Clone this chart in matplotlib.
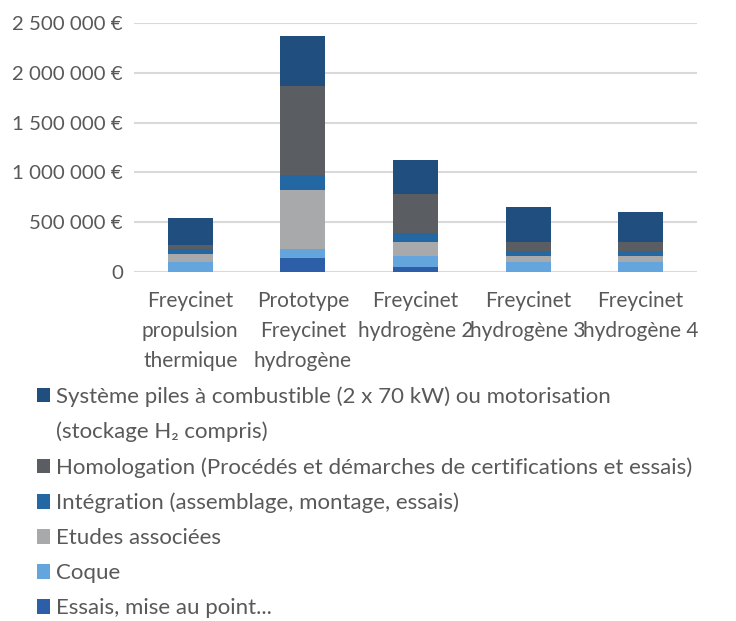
import matplotlib
matplotlib.use("Agg")
import matplotlib.pyplot as plt
from matplotlib.patches import Patch
import numpy as np

plt.rcParams['font.family'] = ['Lato', 'DejaVu Sans']

categories = ["Freycinet\npropulsion\nthermique",
              "Prototype\nFreycinet\nhydrogène",
              "Freycinet\nhydrogène 2",
              "Freycinet\nhydrogène 3",
              "Freycinet\nhydrogène 4"]

# stacked from bottom to top
essais = [0, 140000, 45000, 0, 0]
coque = [100000, 90000, 110000, 100000, 100000]
etudes = [80000, 590000, 145000, 55000, 55000]
integration = [45000, 150000, 90000, 50000, 50000]
homologation = [40000, 900000, 395000, 95000, 95000]
systeme = [270000, 500000, 340000, 355000, 300000]

series_labels = ["Essais, mise au point...",
                 "Coque",
                 "Etudes associées",
                 "Intégration (assemblage, montage, essais)",
                 "Homologation (Procédés et démarches de certifications et essais)",
                 "Système piles à combustible (2 x 70 kW) ou motorisation"]
legend_extra = "(stockage H₂ compris)"
colors = ["#2D5EA8", "#64A5DD", "#A7A9AB", "#2368A3", "#5A5E62", "#1F4E7F"]

yticks = [0, 500000, 1000000, 1500000, 2000000, 2500000]
ytick_labels = ["0", "500 000 €", "1 000 000 €", "1 500 000 €", "2 000 000 €", "2 500 000 €"]

series = [essais, coque, etudes, integration, homologation, systeme]

fig = plt.figure(figsize=(7.36, 6.21), dpi=100)
ax = fig.add_axes([0.182, 0.5628, 0.765, 0.3994])

x = np.arange(len(categories))
bottom = np.zeros(len(categories))
for vals, col in zip(series, colors):
    ax.bar(x, vals, width=0.40, bottom=bottom, color=col, edgecolor='none', zorder=3)
    bottom += np.array(vals)

ax.set_xlim(-0.5, len(categories) - 0.5)
ax.set_ylim(0, 2500000)
ax.set_yticks(yticks)
ax.set_yticklabels(ytick_labels, fontsize=14.7)
ax.set_xticks(x)
ax.set_xticklabels(categories, linespacing=1.63, fontsize=15)
ax.grid(axis='y', color='#D9D9D9', linewidth=1.5, zorder=0)
ax.set_axisbelow(True)
for s in ax.spines.values():
    s.set_visible(False)
ax.tick_params(axis='both', length=0, labelcolor='#595959')
ax.tick_params(axis='y', pad=8)
ax.tick_params(axis='x', pad=14)

handles = [Patch(facecolor=colors[5]), Patch(facecolor='none', edgecolor='none'),
           Patch(facecolor=colors[4]), Patch(facecolor=colors[3]),
           Patch(facecolor=colors[2]), Patch(facecolor=colors[1]), Patch(facecolor=colors[0])]
labels = [series_labels[5], legend_extra, series_labels[4], series_labels[3],
          series_labels[2], series_labels[1], series_labels[0]]
leg = fig.legend(handles, labels, loc='upper left', bbox_to_anchor=(0.050, 0.378),
                 frameon=False, fontsize=16, labelcolor='#595959',
                 handlelength=0.6, handleheight=0.65, handletextpad=0.28,
                 labelspacing=0.67, borderpad=0, borderaxespad=0)

fig.savefig("out.png", dpi=100)
